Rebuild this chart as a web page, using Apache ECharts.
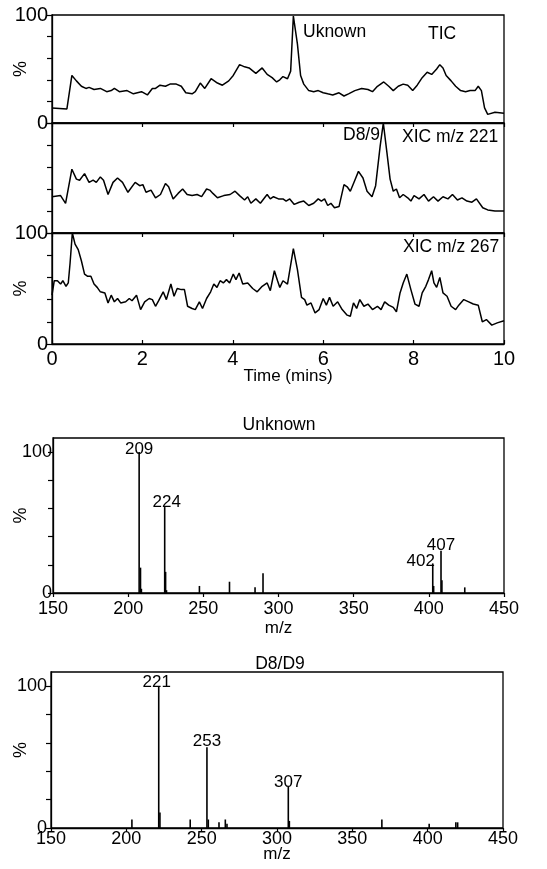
<!DOCTYPE html>
<html><head><meta charset="utf-8">
<script src="https://cdn.jsdelivr.net/npm/echarts@6/dist/echarts.min.js"></script>
<style>html,body{margin:0;padding:0;background:#fff}#c{width:547px;height:869px}</style>
</head><body><div id="c"></div>
<script>
// ---------- DATA ----------
const timeTicks = [0, 2, 4, 6, 8, 10];
const mzTicks = [150, 200, 250, 300, 350, 400, 450];

const ticTrace = [[0,14],[0.33,13],[0.44,44],[0.54,39],[0.65,34],[0.75,32],[0.82,33],[0.93,31],[1.07,32],[1.21,29],[1.31,30],[1.38,32],[1.49,29],[1.66,30],[1.8,27],[1.98,29],[2.11,26],[2.22,32],[2.29,32],[2.39,35],[2.51,34],[2.61,36],[2.75,36],[2.86,34],[2.96,28],[3.1,27],[3.17,29],[3.28,37],[3.38,32],[3.52,41],[3.66,37],[3.77,35],[3.91,39],[4.01,44],[4.15,54],[4.26,52],[4.36,51],[4.51,46],[4.65,51],[4.76,45],[4.87,42],[4.97,38],[5.04,40],[5.11,43],[5.21,41],[5.28,48],[5.34,99],[5.38,100],[5.43,73],[5.5,44],[5.57,36],[5.68,30],[5.79,29],[5.89,30],[6.0,28],[6.1,27],[6.21,26],[6.35,28],[6.46,25],[6.56,27],[6.7,30],[6.85,32],[6.99,31],[7.09,29],[7.2,34],[7.34,38],[7.45,34],[7.55,30],[7.66,34],[7.77,36],[7.87,35],[7.98,30],[8.08,35],[8.19,42],[8.3,47],[8.4,45],[8.51,50],[8.58,54],[8.65,51],[8.72,44],[8.83,39],[8.93,34],[9.04,30],[9.15,29],[9.25,30],[9.36,30],[9.43,34],[9.5,30],[9.57,14],[9.64,8],[9.8,10],[10,9]];

const xic221Trace = [[0,33],[0.19,34],[0.3,27],[0.44,58],[0.54,49],[0.61,48],[0.72,54],[0.82,46],[0.91,48],[0.98,46],[1.07,51],[1.14,48],[1.24,35],[1.35,46],[1.45,50],[1.56,46],[1.68,37],[1.84,46],[1.94,43],[2.01,44],[2.08,37],[2.19,39],[2.29,32],[2.4,35],[2.51,45],[2.58,42],[2.68,31],[2.79,36],[2.89,40],[2.99,35],[3.1,34],[3.21,35],[3.31,33],[3.42,40],[3.49,39],[3.56,36],[3.66,32],[3.8,34],[3.94,35],[4.05,38],[4.15,34],[4.26,30],[4.33,33],[4.4,27],[4.51,31],[4.61,27],[4.72,33],[4.76,35],[4.83,31],[4.9,33],[5.01,31],[5.11,31],[5.18,29],[5.26,31],[5.36,26],[5.47,28],[5.57,29],[5.68,25],[5.79,27],[5.89,31],[5.96,29],[6.03,31],[6.1,25],[6.17,27],[6.25,23],[6.35,24],[6.46,44],[6.53,42],[6.6,38],[6.7,48],[6.78,56],[6.88,50],[6.97,38],[7.08,33],[7.16,43],[7.26,79],[7.33,100],[7.41,73],[7.48,49],[7.55,38],[7.62,40],[7.69,32],[7.77,35],[7.87,32],[7.94,29],[8.01,34],[8.12,31],[8.23,35],[8.33,29],[8.44,33],[8.54,29],[8.65,33],[8.76,31],[8.86,35],[8.97,30],[9.07,32],[9.18,29],[9.29,28],[9.39,31],[9.53,23],[9.64,21],[9.8,20],[10,20]];

const xic267Trace = [[0,44],[0.05,57],[0.12,57],[0.19,54],[0.24,57],[0.31,52],[0.36,55],[0.4,73],[0.45,100],[0.51,90],[0.58,85],[0.65,75],[0.72,63],[0.79,61],[0.86,61],[0.93,54],[1.0,51],[1.07,47],[1.17,46],[1.24,37],[1.31,44],[1.38,38],[1.45,41],[1.52,37],[1.63,38],[1.71,41],[1.77,39],[1.87,44],[1.96,31],[2.05,38],[2.15,41],[2.22,40],[2.29,34],[2.36,39],[2.46,47],[2.53,40],[2.63,54],[2.7,43],[2.77,50],[2.86,49],[2.93,49],[3.0,34],[3.1,32],[3.17,31],[3.26,38],[3.33,32],[3.42,41],[3.51,47],[3.58,54],[3.65,51],[3.72,57],[3.79,55],[3.86,58],[3.93,55],[4.01,63],[4.07,58],[4.14,64],[4.22,54],[4.33,55],[4.44,50],[4.54,47],[4.65,52],[4.76,55],[4.83,48],[4.92,66],[4.99,57],[5.04,51],[5.11,57],[5.21,54],[5.34,86],[5.43,67],[5.52,42],[5.59,40],[5.64,35],[5.73,37],[5.82,28],[5.91,31],[6.0,41],[6.07,35],[6.14,42],[6.22,34],[6.32,38],[6.42,31],[6.53,26],[6.6,25],[6.67,37],[6.74,32],[6.81,40],[6.9,34],[6.99,36],[7.09,31],[7.2,34],[7.28,31],[7.36,38],[7.45,35],[7.55,33],[7.62,29],[7.7,46],[7.77,55],[7.85,63],[7.94,49],[8.03,36],[8.12,34],[8.19,46],[8.27,52],[8.33,58],[8.4,66],[8.45,55],[8.51,51],[8.58,60],[8.65,46],[8.74,43],[8.83,34],[8.93,31],[9.0,35],[9.11,40],[9.22,38],[9.32,36],[9.43,35],[9.52,20],[9.61,22],[9.73,17],[9.85,19],[10,21]];

const unknownMz   = [207.3, 208.2, 208.8, 224.3, 224.9, 225.5, 247.4, 267.4, 284.4, 289.7, 402.6, 403.2, 408.1, 408.7, 423.9];
const unknownInt  = [100, 18, 3, 61, 15, 2, 5, 8, 4, 14, 21, 5, 30, 9, 4];
const unknownLbl  = ['209', '', '', '224', '', '', '', '', '', '', '402', '', '407', '', ''];

const d8Mz  = [203.7, 221.5, 222.3, 242.4, 253.5, 254.4, 261.5, 265.7, 266.8, 307.5, 308.2, 369.6, 401.0, 418.7, 419.9];
const d8Int = [6, 100, 11, 6, 57, 6, 4, 6, 3, 29, 5, 6, 3, 4, 4];
const d8Lbl = ['', '221', '', '', '253', '', '', '', '', '307', '', '', '', '', ''];

// ---------- STYLE / BUILD ----------
const FONT = 'Liberation Sans, Arial, sans-serif';
const BLACK = '#000';
const lblOffset = { '209': [0, 6], '224': [2, 4], '402': [-12, 6], '407': [0, 3], '221': [-2, 5], '253': [0, 3], '307': [0, 4] };

function sticks(mz, inten, lbl) {
  return mz.map((m, i) => {
    const item = { value: [m, inten[i]] };
    if (lbl[i]) {
      item.label = { show: true, position: 'top', distance: 0, offset: lblOffset[lbl[i]] || [0, 0],
        formatter: lbl[i], color: BLACK, fontSize: 17, fontFamily: FONT };
    }
    return item;
  });
}

const grids = [
  { left: 52, top: 15, width: 452, height: 108 },
  { left: 52, top: 123, width: 452, height: 110 },
  { left: 52, top: 233, width: 452, height: 111 },
  { left: 53, top: 438, width: 451, height: 155 },
  { left: 51, top: 672, width: 452, height: 156 }
].map(g => Object.assign(g, { show: true, borderColor: BLACK, borderWidth: 1.3, backgroundColor: 'transparent',
  containLabel: false, outerBoundsMode: 'none' }));

const axLine = { show: true, lineStyle: { color: BLACK, width: 1.3 } };

const xAxes = [0, 1, 2].map(i => ({
  gridIndex: i, type: 'value', min: 0, max: 10, interval: 2,
  axisLine: axLine, splitLine: { show: false },
  axisTick: { show: true, length: 4, inside: i === 2, lineStyle: { color: BLACK, width: 1.2 } },
  axisLabel: { show: i === 2, color: BLACK, fontSize: 20, fontFamily: FONT, margin: 5 },
  name: i === 2 ? 'Time (mins)' : '', nameLocation: 'middle', nameGap: 24, nameMoveOverlap: false,
  nameTextStyle: { color: BLACK, fontSize: 17, fontFamily: FONT, verticalAlign: 'top', padding: [0, 0, 0, 20] }
})).concat([3, 4].map(i => ({
  gridIndex: i, type: 'value', min: 150, max: 450, interval: 50,
  axisLine: axLine, splitLine: { show: false },
  axisTick: { show: true, length: 4, lineStyle: { color: BLACK, width: 1.2 } },
  axisLabel: { color: BLACK, fontSize: 18, fontFamily: FONT, margin: i === 3 ? 7 : 2 },
  name: 'm/z', nameLocation: 'middle', nameGap: i === 3 ? 27 : 18, nameMoveOverlap: false,
  nameTextStyle: { color: BLACK, fontSize: 17, fontFamily: FONT, verticalAlign: 'top' }
})));

const yAxes = [0, 1, 2].map(i => ({
  gridIndex: i, type: 'value', min: 0, max: 100, interval: 20,
  axisLine: axLine, splitLine: { show: false },
  axisTick: { show: true, length: 5, lineStyle: { color: BLACK, width: 1.2 } },
  axisLabel: { show: i !== 1, color: BLACK, fontSize: 20, fontFamily: FONT, margin: 4,
    formatter: v => (v === 0 || v === 100) ? String(v) : '' },
  name: i !== 1 ? '%' : '', nameLocation: 'middle', nameRotate: 90, nameGap: 22, nameMoveOverlap: false,
  nameTextStyle: { color: BLACK, fontSize: 18, fontFamily: FONT }
})).concat([3, 4].map(i => ({
  gridIndex: i, type: 'value', min: 0, max: 110, interval: 20,
  axisLine: axLine, splitLine: { show: false },
  axisTick: { show: true, length: 5, customValues: [0, 20, 40, 60, 80, 100], lineStyle: { color: BLACK, width: 1.2 } },
  axisLabel: { color: BLACK, fontSize: 18, fontFamily: FONT, margin: i === 3 ? 1 : 4,
    customValues: [0, 100], formatter: v => (v === 0 || v === 100) ? String(v) : '' },
  name: '%', nameLocation: 'middle', nameRotate: 90, nameGap: i === 3 ? 23 : 21, nameMoveOverlap: false,
  nameTextStyle: { color: BLACK, fontSize: 18, fontFamily: FONT }
})));

const lineSeries = [ticTrace, xic221Trace, xic267Trace].map((d, i) => ({
  type: 'line', xAxisIndex: i, yAxisIndex: i, data: d, showSymbol: false, symbol: 'none',
  lineStyle: { color: BLACK, width: 1.5 }, animation: false, clip: false
}));

const barSeries = [
  { data: sticks(unknownMz, unknownInt, unknownLbl), idx: 3 },
  { data: sticks(d8Mz, d8Int, d8Lbl), idx: 4 }
].map(s => ({
  type: 'bar', xAxisIndex: s.idx, yAxisIndex: s.idx, data: s.data, barWidth: 1.6,
  itemStyle: { color: BLACK }, animation: false
}));

function txt(text, x, y, align) {
  return { type: 'text', x: x, y: y, silent: true,
    style: { text: text, fill: BLACK, font: '17.5px ' + FONT, align: align || 'left', verticalAlign: 'top' } };
}

const option = {
  backgroundColor: '#fff',
  animation: false,
  grid: grids,
  xAxis: xAxes,
  yAxis: yAxes,
  series: lineSeries.concat(barSeries),
  graphic: [
    txt('Uknown', 303, 23),
    txt('TIC', 428, 25),
    txt('D8/9', 343, 126),
    txt('XIC m/z 221', 402, 128),
    txt('XIC m/z 267', 403, 238),
    txt('Unknown', 279, 416, 'center'),
    txt('D8/D9', 280, 655, 'center')
  ]
};

const chart = echarts.init(document.getElementById('c'), null, { renderer: 'canvas' });
chart.setOption(option);
</script></body></html>
